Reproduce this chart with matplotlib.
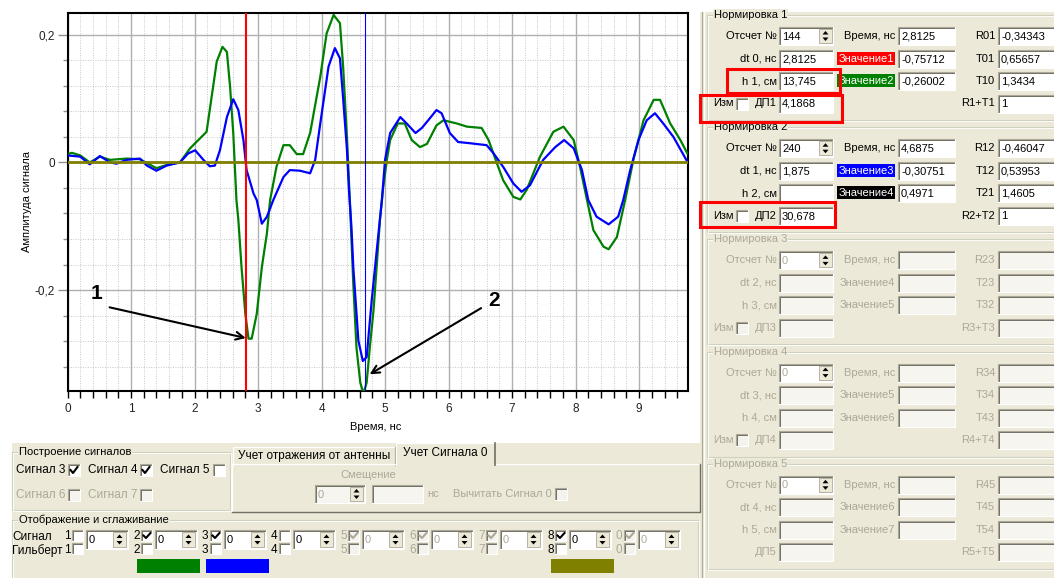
import numpy as np
import matplotlib
matplotlib.use('Agg')
import matplotlib.pyplot as plt
from matplotlib.patches import Rectangle, Polygon
from matplotlib.ticker import MultipleLocator, FixedLocator, FixedFormatter

plt.rcParams['font.family'] = ['Liberation Sans', 'DejaVu Sans']
plt.rcParams['font.size'] = 8

# --- сигналы (время, нс / амплитуда) ---
green_t = [0.0, 0.07, 0.20, 0.35, 0.51, 0.67, 0.93, 1.14, 1.25, 1.40, 1.56, 1.77, 1.93, 2.06,
           2.19, 2.35, 2.44, 2.51, 2.56, 2.61, 2.66, 2.69, 2.74, 2.80, 2.85, 2.90, 2.98, 3.06,
           3.14, 3.19, 3.29, 3.40, 3.50, 3.61, 3.71, 3.82, 3.98, 4.08, 4.19, 4.29, 4.34, 4.40,
           4.45, 4.50, 4.55, 4.61, 4.66, 4.71, 4.76, 4.82, 4.87, 4.92, 4.97, 5.03, 5.08, 5.20,
           5.31, 5.42, 5.55, 5.66, 5.81, 5.92, 6.13, 6.29, 6.52, 6.63, 6.76, 6.86, 7.02, 7.13,
           7.23, 7.44, 7.65, 7.81, 7.97, 8.07, 8.18, 8.28, 8.44, 8.52, 8.65, 8.78, 8.91, 9.07,
           9.23, 9.33, 9.49, 9.65, 9.76]
green_v = [0.013, 0.015, 0.011, 0.0, 0.009, 0.004, 0.006, 0.005, -0.001, -0.009, -0.004, 0.0,
           0.022, 0.035, 0.048, 0.158, 0.181, 0.173, 0.118, 0.046, -0.059, -0.09, -0.164, -0.237,
           -0.276, -0.276, -0.237, -0.164, -0.111, -0.059, -0.007, 0.027, 0.027, 0.013, 0.013,
           0.046, 0.134, 0.202, 0.231, 0.218, 0.15, 0.04, -0.07, -0.19, -0.29, -0.345, -0.362,
           -0.345, -0.29, -0.23, -0.16, -0.09, -0.04, 0.005, 0.035, 0.061, 0.061, 0.035, 0.024,
           0.029, 0.058, 0.066, 0.061, 0.056, 0.054, 0.035, -0.001, -0.028, -0.054, -0.058,
           -0.043, 0.009, 0.048, 0.056, 0.035, -0.007, -0.059, -0.106, -0.132, -0.136, -0.117,
           -0.059, 0.004, 0.066, 0.098, 0.098, 0.061, 0.035, 0.014]

blue_t = [0.0, 0.20, 0.35, 0.51, 0.67, 0.77, 0.93, 1.14, 1.25, 1.40, 1.56, 1.77, 1.90, 2.01,
          2.14, 2.24, 2.32, 2.40, 2.51, 2.61, 2.69, 2.77, 2.82, 2.93, 2.98, 3.06, 3.14, 3.24,
          3.40, 3.50, 3.66, 3.82, 3.90, 3.98, 4.11, 4.21, 4.29, 4.34, 4.40, 4.43, 4.47, 4.50,
          4.58, 4.65, 4.71, 4.79, 4.87, 4.95, 5.00, 5.08, 5.24, 5.34, 5.48, 5.58, 5.68, 5.81,
          5.89, 6.02, 6.15, 6.34, 6.60, 6.71, 6.86, 7.02, 7.15, 7.28, 7.49, 7.68, 7.82, 7.97,
          8.10, 8.20, 8.33, 8.52, 8.67, 8.75, 8.86, 8.99, 9.12, 9.25, 9.38, 9.54, 9.76]
blue_v = [0.011, 0.009, -0.003, 0.010, 0.0, -0.002, 0.004, 0.006, -0.005, -0.013, -0.005, 0.0,
          0.014, 0.019, 0.004, -0.006, -0.005, 0.019, 0.071, 0.099, 0.082, 0.035, -0.012, -0.049,
          -0.059, -0.096, -0.085, -0.059, -0.023, -0.012, -0.013, -0.017, 0.004, 0.061, 0.150,
          0.179, 0.163, 0.10, 0.02, -0.04, -0.10, -0.164, -0.279, -0.311, -0.305, -0.216, -0.137,
          -0.059, 0.004, 0.046, 0.071, 0.061, 0.046, 0.054, 0.066, 0.082, 0.077, 0.046, 0.032,
          0.030, 0.027, 0.014, -0.007, -0.033, -0.046, -0.036, 0.004, 0.024, 0.035, 0.022,
          -0.012, -0.059, -0.085, -0.097, -0.085, -0.059, -0.012, 0.035, 0.066, 0.077, 0.061,
          0.040, 0.001]

marker_times = [2.8125, 4.6875]
xtick_vals = [0, 1, 2, 3, 4, 5, 6, 7, 8, 9]
ytick_vals = [-0.2, 0.0, 0.2]
ytick_labels = ['-0,2', '0', '0,2']

# --- правая панель ---
norm_titles = ['Нормировка 1', 'Нормировка 2', 'Нормировка 3', 'Нормировка 4', 'Нормировка 5']
labels_a = [['Отсчет №', 'dt 0, нс', 'h 1, см', 'ДП1'], ['Отсчет №', 'dt 1, нс', 'h 2, см', 'ДП2'],
            ['Отсчет №', 'dt 2, нс', 'h 3, см', 'ДП3'], ['Отсчет №', 'dt 3, нс', 'h 4, см', 'ДП4'],
            ['Отсчет №', 'dt 4, нс', 'h 5, см', 'ДП5']]
values_a = [['144', '2,8125', '13,745', '4,1868'], ['240', '1,875', '', '30,678'],
            ['0', '', '', ''], ['0', '', '', ''], ['0', '', '', '']]
labels_b = [['Время, нс', 'Значение1', 'Значение2'], ['Время, нс', 'Значение3', 'Значение4'],
            ['Время, нс', 'Значение4', 'Значение5'], ['Время, нс', 'Значение5', 'Значение6'],
            ['Время, нс', 'Значение6', 'Значение7']]
values_b = [['2,8125', '-0,75712', '-0,26002'], ['4,6875', '-0,30751', '0,4971'],
            ['', '', ''], ['', '', ''], ['', '', '']]
labels_c = [['R01', 'T01', 'T10', 'R1+T1'], ['R12', 'T12', 'T21', 'R2+T2'], ['R23', 'T23', 'T32', 'R3+T3'],
            ['R34', 'T34', 'T43', 'R4+T4'], ['R45', 'T45', 'T54', 'R5+T5']]
values_c = [['-0,34343', '0,65657', '1,3434', '1'], ['-0,46047', '0,53953', '1,4605', '1'],
            ['', '', '', ''], ['', '', '', ''], ['', '', '', '']]
value_bg = {(0, 1): '#FF0000', (0, 2): '#008000', (1, 1): '#0000FF', (1, 2): '#000000'}

# --- нижняя панель ---
build_labels = ['Сигнал 3', 'Сигнал 4', 'Сигнал 5', 'Сигнал 6', 'Сигнал 7']
build_checked = [True, True, False, False, False]
build_enabled = [True, True, True, False, False]
channel_ids = ['1', '2', '3', '4', '5', '6', '7', '8', '0']
channel_checked = [False, True, True, False, True, True, True, True, True]
channel_enabled = [True, True, True, True, False, False, False, True, False]
bar_channels = [1, 2, 7]
bar_colors = ['#008000', '#0000FF', '#808000']

BG = '#ECE9D8'
GREY = '#ACA899'

fig = plt.figure(figsize=(10.54, 5.78), dpi=100)
fig.patch.set_facecolor('white')
ui = fig.add_axes([0, 0, 1, 1], zorder=0)
ui.set_xlim(0, 1054)
ui.set_ylim(578, 0)
ui.axis('off')


def field(x, y, w, h, text='', fill='white', color='black'):
    ui.add_patch(Rectangle((x, y), w, h, fc=fill, ec='none'))
    ui.plot([x, x, x + w], [y + h, y, y], color='#ACA899', lw=0.8)
    ui.plot([x + 1, x + 1, x + w - 1], [y + h - 1, y + 1, y + 1], color='#716F64', lw=0.7)
    ui.plot([x, x + w, x + w], [y + h, y + h, y], color='white', lw=0.8)
    if text:
        ui.text(x + 3, y + h / 2 + 0.5, text, va='center', ha='left', color=color)


def spin_btn(x, y, h, color='black'):
    ui.add_patch(Rectangle((x, y), 13, h, fc=BG, ec='#ACA899', lw=0.6))
    m = y + h / 2
    ui.add_patch(Polygon([(x + 3.5, m - 1.5), (x + 9.5, m - 1.5), (x + 6.5, m - 5)], closed=True, fc=color, ec='none'))
    ui.add_patch(Polygon([(x + 3.5, m + 1.5), (x + 9.5, m + 1.5), (x + 6.5, m + 5)], closed=True, fc=color, ec='none'))


def checkbox(x, y, checked, enabled=True, s=12):
    field(x, y, s, s, fill='white' if enabled else '#F4F3EE')
    if checked:
        ui.plot([x + 2.5, x + 5, x + 9.5], [y + s / 2, y + s - 3, y + 3],
                color='black' if enabled else GREY, lw=1.5)


def group(x, y, w, h, title, color='black'):
    ui.add_patch(Rectangle((x, y), w, h, fill=False, ec='#D0D0BF', lw=0.8))
    ui.add_patch(Rectangle((x + 1, y + 1), w, h, fill=False, ec='white', lw=0.6))
    ui.text(x + 7, y, title, va='center', ha='left', color=color,
            bbox=dict(fc=BG, ec='none', pad=0.6))


# фон панелей
ui.add_patch(Rectangle((700, 12), 354, 566, fc=BG, ec='none'))
ui.add_patch(Rectangle((12, 443), 690, 135, fc=BG, ec='none'))
ui.plot([702, 702], [12, 578], color=GREY, lw=0.8)
ui.plot([704, 704], [12, 578], color='white', lw=0.8)

# правая панель: пять блоков нормировки
for g in range(5):
    ty = 15 + 112.2 * g
    on = g < 2
    fg = 'black' if on else GREY
    fill = 'white' if on else '#F6F5F0'
    group(707, ty, 360, 105, norm_titles[g], fg)
    for r in range(4):
        cy = ty + 21 + 22.5 * r
        top = cy - 9
        # колонка A
        ui.text(777, cy, labels_a[g][r], ha='right', va='center', color=fg)
        if r == 3 and g < 4:
            ui.text(734, cy, 'Изм', ha='right', va='center', color=fg)
            checkbox(736, cy - 6, False, on)
        if r == 0:
            field(779, top, 54, 18, values_a[g][r], fill='white', color=fg)
            spin_btn(819, top + 2, 14)
        else:
            field(779, top, 54, 18, values_a[g][r], fill=fill, color=fg)
        # колонка B
        if r < 3:
            lab = labels_b[g][r]
            if (g, r) in value_bg:
                ui.add_patch(Rectangle((837, cy - 7), 58, 13, fc=value_bg[(g, r)], ec='none'))
                ui.text(894, cy, lab, ha='right', va='center', color='white')
            else:
                ui.text(895, cy, lab, ha='right', va='center', color=fg)
            field(898, top, 57, 18, values_b[g][r], fill=fill, color=fg)
        # колонка C
        ui.text(995, cy, labels_c[g][r], ha='right', va='center', color=fg)
        field(998, top, 64, 18, values_c[g][r], fill=fill, color=fg)

# красные рамки выделения
for (rx, ry, rw, rh) in [(727, 69, 113, 24), (700, 95, 142, 27), (700, 202, 135, 25)]:
    ui.add_patch(Rectangle((rx, ry), rw, rh, fill=False, ec='#FF0000', lw=2.2, zorder=5))

# нижняя панель: построение сигналов
group(12, 452, 218, 58, 'Построение сигналов')
cb_pos = [(68, 470), (140, 470), (213, 470), (68, 495), (140, 495)]
for lab, chk, en, (cx, cy) in zip(build_labels, build_checked, build_enabled, cb_pos):
    ui.text(cx - 3, cy, lab, ha='right', va='center', color='black' if en else GREY, fontsize=8.5)
    checkbox(cx, cy - 6, chk, en)

# вкладки
ui.add_patch(Rectangle((233, 447), 162, 18, fc=BG, ec='none'))
ui.plot([233, 233, 395], [465, 447, 447], color='white', lw=0.9)
ui.plot([395, 395], [447, 465], color='#ACA899', lw=0.9)
ui.text(314, 456.5, 'Учет отражения от антенны', ha='center', va='center', fontsize=8.5)
ui.add_patch(Rectangle((396, 443), 99, 22, fc=BG, ec='none', zorder=3))
ui.plot([396, 396, 495], [465, 443, 443], color='white', lw=0.9, zorder=3)
ui.plot([495, 495], [443, 465], color='#716F64', lw=1.2, zorder=3)
ui.text(445, 453, 'Учет Сигнала 0', ha='center', va='center', fontsize=8.5, zorder=4)
ui.plot([232, 232, 396], [512, 464, 464], color='white', lw=0.9)
ui.plot([495, 700], [464, 464], color='white', lw=0.9)
ui.plot([232, 700, 700], [512, 512, 464], color='#716F64', lw=1.0)
ui.text(368, 475, 'Смещение', ha='center', va='center', color=GREY)
field(315, 485, 50, 18, '0', fill='#F6F5F0', color=GREY)
spin_btn(350, 487, 14)
field(372, 485, 51, 18, '', fill='#F6F5F0')
ui.text(427, 494, 'нс', ha='left', va='center', color=GREY)
ui.text(552, 494, 'Вычитать Сигнал 0', ha='right', va='center', color=GREY)
checkbox(555, 488, False, False)

# отображение и сглаживание
group(12, 520, 686, 70, 'Отображение и сглаживание')
ui.text(12, 537, 'Сигнал', ha='left', va='center', fontsize=8.5)
ui.text(12, 551, 'Гильберт', ha='left', va='center', fontsize=8.5)
for i, (cid, chk, en) in enumerate(zip(channel_ids, channel_checked, channel_enabled)):
    cx = 64 + 69 * i
    c = 'black' if en else GREY
    ui.text(cx, 536, cid, ha='left', va='center', color=c, fontsize=8.5)
    ui.text(cx, 550, cid, ha='left', va='center', color=c, fontsize=8.5)
    checkbox(cx + 8, 530, chk, en, s=11)
    checkbox(cx + 8, 543, False, en, s=11)
    field(cx + 22, 530, 42, 19, '0', fill='white', color=c)
    spin_btn(cx + 49, 532, 15)
for ch, col in zip(bar_channels, bar_colors):
    ui.add_patch(Rectangle((64 + 69 * ch + 4, 559), 63, 14, fc=col, ec='none'))

# --- график ---
ax = fig.add_axes([67.5 / 1054, (578 - 391) / 578, 620.5 / 1054, 378 / 578], zorder=2)
ax.set_facecolor('white')
ax.plot(green_t, green_v, color='#008000', lw=1.6, zorder=3)
ax.plot(blue_t, blue_v, color='#0000FF', lw=1.6, zorder=3)
ax.axhline(0, color='#808000', lw=2.0, zorder=4)
ax.axvline(marker_times[0], color='#FF0000', lw=1.5, zorder=5)
ax.axvline(marker_times[1], color='#0000FF', lw=0.8, zorder=5)

ax.set_xlim(0, 9.77)
ax.set_ylim(-0.358, 0.234)
ax.xaxis.set_major_locator(FixedLocator(xtick_vals))
ax.xaxis.set_minor_locator(MultipleLocator(0.2))
ax.yaxis.set_major_locator(FixedLocator(ytick_vals))
ax.yaxis.set_major_formatter(FixedFormatter(ytick_labels))
ax.yaxis.set_minor_locator(MultipleLocator(0.04))
ax.grid(which='major', color='#B0B0B0', lw=1.0, ls='-', zorder=0)
ax.grid(which='minor', color='#C8C8C8', lw=0.7, ls=(0, (1, 1.5)), zorder=0)
ax.set_axisbelow(True)
ax.tick_params(axis='x', which='both', direction='out', length=5, width=1, color='black',
               labelsize=8.5, labelcolor='#222222', pad=4)
ax.tick_params(axis='y', which='major', direction='out', length=7, width=1, color='#909090',
               labelsize=8.5, labelcolor='#222222', pad=2)
ax.tick_params(axis='y', which='minor', direction='out', length=3.5, width=1, color='#909090')
for sp in ax.spines.values():
    sp.set_color('black')
    sp.set_linewidth(1.5)

ax.set_xlabel('Время, нс', fontsize=8)
ax.xaxis.set_label_coords(0.497, -0.083)
ax.set_ylabel('Амплитуда сигнала', fontsize=8)
ax.yaxis.set_label_coords(-0.058, 0.5)

# стрелки-указатели
g_t = np.array(green_t)
g_v = np.array(green_v)
near = g_t < 3.5
i1 = np.argmin(np.where(near, g_v, 1.0))
tip1 = (g_t[i1], g_v[i1])
tip2 = (4.72, float(np.interp(4.72, g_t, g_v)))
ax.annotate('', xy=tip1, xytext=(0.62, -0.226),
            arrowprops=dict(arrowstyle='->', color='black', lw=1.5, mutation_scale=14), zorder=6)
ax.annotate('', xy=tip2, xytext=(6.55, -0.226),
            arrowprops=dict(arrowstyle='->', color='black', lw=1.5, mutation_scale=14), zorder=6)
ax.text(0.46, -0.206, '1', fontsize=15, fontweight='bold', ha='center', va='center')
ax.text(6.71, -0.216, '2', fontsize=15, fontweight='bold', ha='center', va='center')

fig.savefig('out.png', dpi=100)
